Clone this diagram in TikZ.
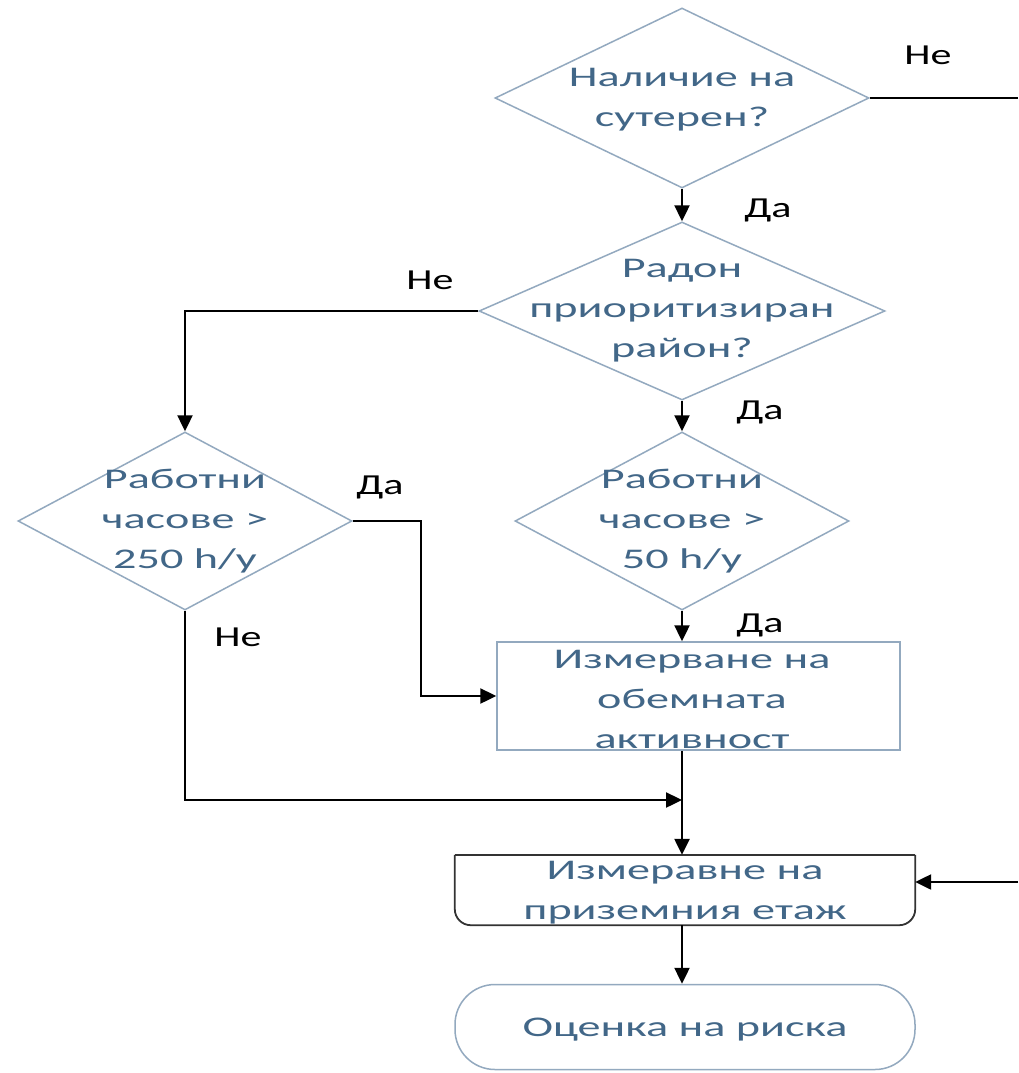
\documentclass[tikz,border=0pt]{standalone}
\usepackage{fontspec}
\setmainfont{Carlito}[FakeStretch=1.62]
\newfontfamily\lblfont{Carlito}[FakeStretch=1.45]
\usetikzlibrary{shapes.geometric,arrows.meta}
\definecolor{txtblue}{HTML}{426788}
\definecolor{shpline}{HTML}{93A9BF}
\definecolor{darkline}{HTML}{333333}
\begin{document}
\begin{tikzpicture}[x=1pt,y=-1pt,
  dec/.style={diamond, draw=shpline, line width=1.5pt, inner sep=0pt},
  txt/.style={text=txtblue, align=center, font=\fontsize{28.5}{40}\selectfont, inner sep=0pt},
  lbl/.style={text=black, font=\lblfont\fontsize{29}{34}\selectfont, inner sep=0pt},
  conn/.style={line width=2.4pt, draw=black, -{Triangle[length=16pt,width=15pt]}},
  plain/.style={line width=2.4pt, draw=black}]
\useasboundingbox[fill=white] (0,0) rectangle (1018,1073);
% shapes
\node[dec, minimum width=374pt, minimum height=180pt] (d1) at (682,98) {};
\node[dec, minimum width=406pt, minimum height=178pt] (d2) at (682,311) {};
\node[dec, minimum width=334pt, minimum height=178pt] (d3) at (185,521) {};
\node[dec, minimum width=334pt, minimum height=178pt] (d4) at (682,521) {};
\node[draw=shpline, line width=1.5pt, minimum width=403pt, minimum height=108pt, inner sep=0pt] (b1) at (698.5,696) {};
\node[minimum width=460pt, minimum height=70pt, inner sep=0pt] (b2) at (685,890) {};
\draw[draw=darkline, line width=1.8pt, rounded corners=16pt] (b2.north west) -- (b2.south west) -- (b2.south east) -- (b2.north east);
\draw[draw=darkline, line width=1.8pt] (b2.north west) -- (b2.north east);
\node[draw=shpline, line width=1.5pt, rounded corners=40pt, minimum width=460pt, minimum height=85pt, inner sep=0pt] (t1) at (685,1027) {};
% texts
\node[txt] (d1t) at (682,100) {Наличие на\\сутерен?};
\node[txt] (d2t) at (682,311) {Радон\\приоритизиран\\район?};
\node[txt] (d3t) at (185,521) {Работни\\часове >\\250 h/y};
\node[txt] (d4t) at (682,521) {Работни\\часове >\\50 h/y};
\node[txt] (b1t) at (692,699) {Измерване на\\обемната\\активност};
\node[txt] (b2t) at (685,893) {Измеравне на\\приземния етаж};
\node[txt] (t1t) at (685,1030) {Оценка на риска};
% coordinates
\coordinate (r1) at (1018,98);
\coordinate (r2) at (1018,882);
\coordinate (m1) at (682,800);
% connectors
\draw[plain] (d1.east) -- (r1);
\draw[conn] (d1.south) -- (d2.north);
\draw[conn] (d2.west) -| (d3.north);
\draw[conn] (d2.south) -- (d4.north);
\draw[conn] (d3.east) -- ++(68,0) |- (b1.west);
\draw[conn] (d4.south) -- (d4.south |- b1.north);
\draw[conn] (b1.south -| d4.south) -- (b2.north -| d4.south);
\draw[conn] (d3.south) |- (m1);
\draw[conn] (r2) -- (r2 -| b2.east);
\draw[conn] (b2.south -| d4.south) -- (t1.north -| d4.south);
% labels
\node[lbl] (l1) at (928,55) {Не};
\node[lbl] (l2) at (768,210) {Да};
\node[lbl] (l3) at (430,280) {Не};
\node[lbl] (l4) at (760,412) {Да};
\node[lbl] (l5) at (380,487) {Да};
\node[lbl] (l6) at (238,637) {Не};
\node[lbl] (l7) at (760,625) {Да};
\end{tikzpicture}
\end{document}
